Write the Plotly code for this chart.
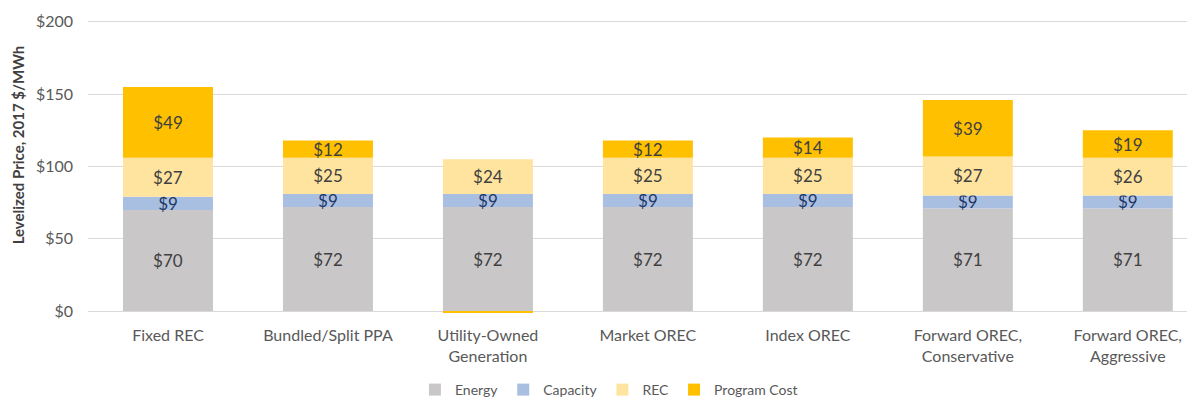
import plotly.graph_objects as go

categories = ["Fixed REC", "Bundled/Split PPA", "Utility-Owned<br>Generation", "Market OREC",
              "Index OREC", "Forward OREC,<br>Conservative", "Forward OREC,<br>Aggressive"]

energy = [70, 72, 72, 72, 72, 71, 71]
capacity = [9, 9, 9, 9, 9, 9, 9]
rec = [27, 25, 24, 25, 25, 27, 26]
program_cost = [49, 12, -1, 12, 14, 39, 19]

y_ticks = [0, 50, 100, 150, 200]

colors = {
    "Energy": "#C9C7C8",
    "Capacity": "#A9BFE2",
    "REC": "#FFE49F",
    "Program Cost": "#FFC000",
}
text_colors = {
    "Energy": "#404040",
    "Capacity": "#1F3864",
    "REC": "#404040",
    "Program Cost": "#404040",
}

fig = go.Figure()
for name, vals in [("Energy", energy), ("Capacity", capacity),
                   ("REC", rec), ("Program Cost", program_cost)]:
    fig.add_trace(go.Bar(
        x=categories,
        y=vals,
        name=name,
        marker=dict(color=colors[name], line=dict(width=0)),
        text=[f"${v}" if v > 0 else "" for v in vals],
        textposition="inside",
        insidetextanchor="middle",
        textangle=0,
        constraintext="none",
        textfont=dict(size=17, color=text_colors[name], family="Lato"),
        hoverinfo="skip",
    ))

fig.update_layout(
    width=1187,
    height=406,
    barmode="relative",
    bargap=0.4375,
    plot_bgcolor="white",
    paper_bgcolor="white",
    font=dict(family="Lato", size=16, color="#595959"),
    margin=dict(l=88, r=0, t=18.8, b=92.4),
    legend=dict(
        orientation="h",
        x=0.474, xanchor="center",
        y=-0.012, yanchor="bottom",
        yref="container",
        font=dict(size=14, color="#595959"),
        traceorder="normal",
    ),
    showlegend=True,
    annotations=[dict(
        text="<b>Levelized Price, 2017 $/MWh</b>",
        xref="paper", yref="paper",
        x=-0.0637, y=0.575,
        xanchor="center", yanchor="middle",
        textangle=-90, showarrow=False,
        font=dict(size=15, color="#404040"),
    )],
)

fig.update_xaxes(
    range=[-0.5, 6.37],
    showgrid=False,
    showline=False,
    ticks="",
    ticklabelstandoff=10,
    tickfont=dict(size=16, color="#595959"),
)
fig.update_yaxes(
    range=[-2, 202],
    tickvals=y_ticks,
    ticktext=[f"${v}" for v in y_ticks],
    showgrid=True,
    gridcolor="#D9D9D9",
    gridwidth=1,
    zeroline=False,
    showline=False,
    ticks="",
    ticklabelstandoff=14,
    tickfont=dict(size=16, color="#595959"),
)

# drop the page's default body margin so the figure fills the window
fig.write_html("out.html", config={"displayModeBar": False},
               post_script="document.body.style.margin='0';")
